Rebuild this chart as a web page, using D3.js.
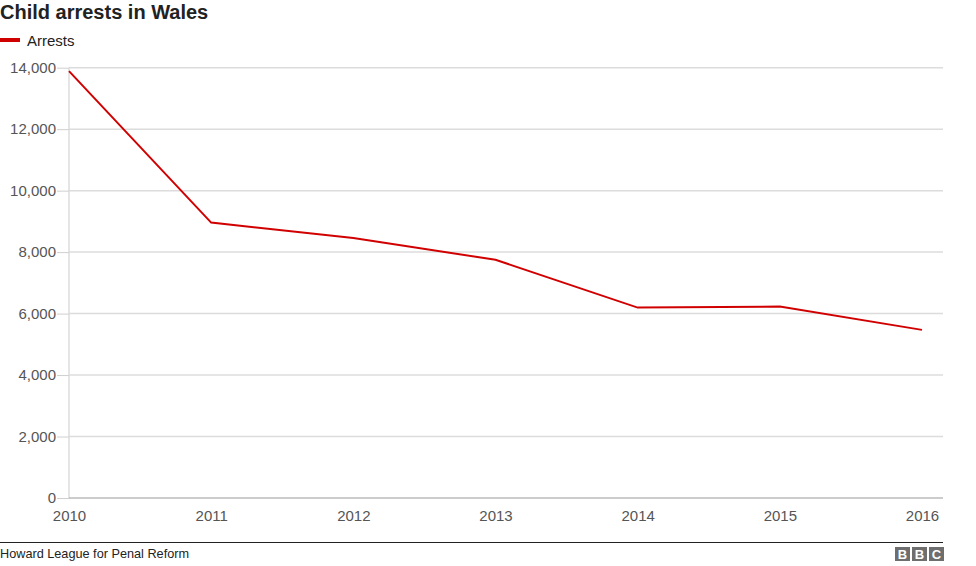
<!DOCTYPE html>
<html><head><meta charset="utf-8">
<script src="https://d3js.org/d3.v7.min.js"></script>
<style>
body{margin:0;background:#fff;font-family:"Liberation Sans",Arial,Helvetica,sans-serif;}
svg text{font-family:"Liberation Sans",Arial,Helvetica,sans-serif;}
</style></head>
<body><svg id="c" width="976" height="566"></svg>
<script>
const years = ["2010","2011","2012","2013","2014","2015","2016"];
const arrests = [13890, 8960, 8460, 7750, 6195, 6228, 5470];
const yTicks = [0,2000,4000,6000,8000,10000,12000,14000];
const title = "Child arrests in Wales";
const seriesName = "Arrests";
const source = "Howard League for Penal Reform";

const svg = d3.select("#c");
const x = d3.scalePoint().domain(years).range([69, 922]);
const y = d3.scaleLinear().domain([0,14000]).range([498, 67.7]);

svg.append("text").attr("x",0).attr("y",19).attr("font-size",20).attr("font-weight","bold").attr("fill","#222").text(title);
svg.append("rect").attr("x",0).attr("y",38).attr("width",20).attr("height",4).attr("fill","#d10000");
svg.append("text").attr("x",27).attr("y",46).attr("font-size",15).attr("fill","#222").text(seriesName);

// gridlines
svg.append("g").selectAll("line").data(yTicks.filter(d=>d>0)).join("line")
  .attr("x1",69).attr("x2",943).attr("y1",d=>y(d)).attr("y2",d=>y(d))
  .attr("stroke","#dcdcdc").attr("stroke-width",1.5);

// y axis
const ya = svg.append("g").attr("transform","translate(69,0)")
  .call(d3.axisLeft(y).tickValues(yTicks).tickSize(12).tickPadding(1).tickFormat(d3.format(",")));
ya.select(".domain").attr("stroke","#dcdcdc").attr("stroke-width",1.5).attr("d","M0,"+y(14000)+"V"+y(0));
ya.selectAll(".tick line").attr("stroke","#cfcfcf");
ya.selectAll(".tick text").attr("font-size",15).attr("fill","#555").attr("font-family","Liberation Sans, Arial, sans-serif");

// x axis
const xa = svg.append("g").attr("transform","translate(0,498)")
  .call(d3.axisBottom(x).tickSize(0).tickPadding(12));
xa.select(".domain").attr("stroke","#999").attr("stroke-width",1).attr("d","M69,0H943");
xa.selectAll(".tick text").attr("font-size",15).attr("fill","#555").attr("font-family","Liberation Sans, Arial, sans-serif");

// line
svg.append("path").datum(arrests)
  .attr("fill","none").attr("stroke","#d10000").attr("stroke-width",2)
  .attr("d", d3.line().x((d,i)=>x(years[i])).y(d=>y(d)));

// footer
svg.append("line").attr("x1",0).attr("x2",943).attr("y1",542.5).attr("y2",542.5).attr("stroke","#222").attr("stroke-width",1);
svg.append("text").attr("x",0).attr("y",558).attr("font-size",12.7).attr("fill","#222").text(source);
const logo = svg.append("g");
["B","B","C"].forEach((l,i)=>{
  const bx = 895 + i*17;
  logo.append("rect").attr("x",bx).attr("y",547).attr("width",15).attr("height",14).attr("fill","#6e6e6e");
  logo.append("text").attr("x",bx+7.5).attr("y",558.5).attr("text-anchor","middle").attr("font-size",13).attr("font-weight","bold").attr("fill","#fff").text(l);
});
</script></body></html>
